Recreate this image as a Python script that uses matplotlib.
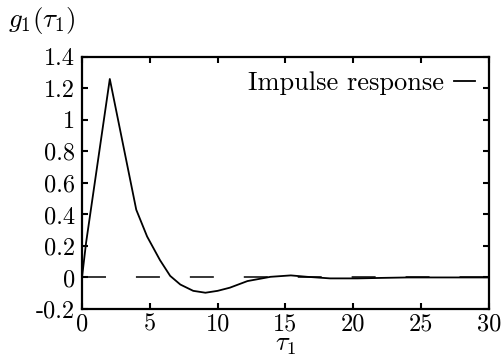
import numpy as np
import matplotlib
matplotlib.use('Agg')
import matplotlib.pyplot as plt
from matplotlib.ticker import FuncFormatter

# 脉冲响应
tau = [0, 0.3, 2.05, 4.0, 4.8, 5.75, 6.5, 7.25, 8.2, 9.1, 10.0, 10.9,
       12.2, 13.9, 15.4, 16.6, 18.3, 20.3, 22.0, 24.0, 27.0, 30.0]
g1 = [0, 0.22, 1.26, 0.43, 0.26, 0.11, 0.01, -0.045, -0.085, -0.097, -0.085, -0.065,
      -0.023, 0.004, 0.013, 0.004, -0.006, -0.006, -0.003, 0.0, 0.0, 0.0]
xticks = [0, 5, 10, 15, 20, 25, 30]
yticks = [-0.2, 0, 0.2, 0.4, 0.6, 0.8, 1, 1.2, 1.4]

plt.rcParams['font.family'] = 'cmr10'
plt.rcParams['mathtext.fontset'] = 'cm'
plt.rcParams['font.size'] = 17.5

fig = plt.figure(figsize=(5.04, 3.58), dpi=100)
ax = fig.add_axes([0.1627, 0.137, 0.8073, 0.704])

ax.plot([0, 30], [0, 0], color='black', lw=1.1, dashes=(15.7, 19.6))
ax.plot(tau, g1, color='black', lw=1.3, label='Impulse response')

ax.set_xlim(0, 30)
ax.set_ylim(-0.2, 1.4)
ax.set_xticks(xticks)
ax.set_yticks(yticks)


def fmt(v, pos):
    s = f'{v:g}'
    return '0' if s in ('-0', '0') else s


ax.xaxis.set_major_formatter(FuncFormatter(fmt))
ax.yaxis.set_major_formatter(FuncFormatter(fmt))
ax.tick_params(direction='in', top=True, right=True, length=4, width=1.5)
ax.tick_params(axis='y', pad=5)
ax.tick_params(axis='x', pad=3)
for sp in ax.spines.values():
    sp.set_linewidth(1.6)

ax.set_xlabel(r'$\tau_1$', fontsize=19)
ax.xaxis.set_label_coords(0.5, -0.095)
fig.text(0.016, 0.944, r'$g_1(\tau_1)$', ha='left', va='center', fontsize=19.5)

ax.legend(loc='upper right', markerfirst=False, frameon=False, handlelength=0.8,
          handletextpad=0.35, borderaxespad=0.34, borderpad=0.2, fontsize=19)

fig.savefig('out.png', dpi=100)
